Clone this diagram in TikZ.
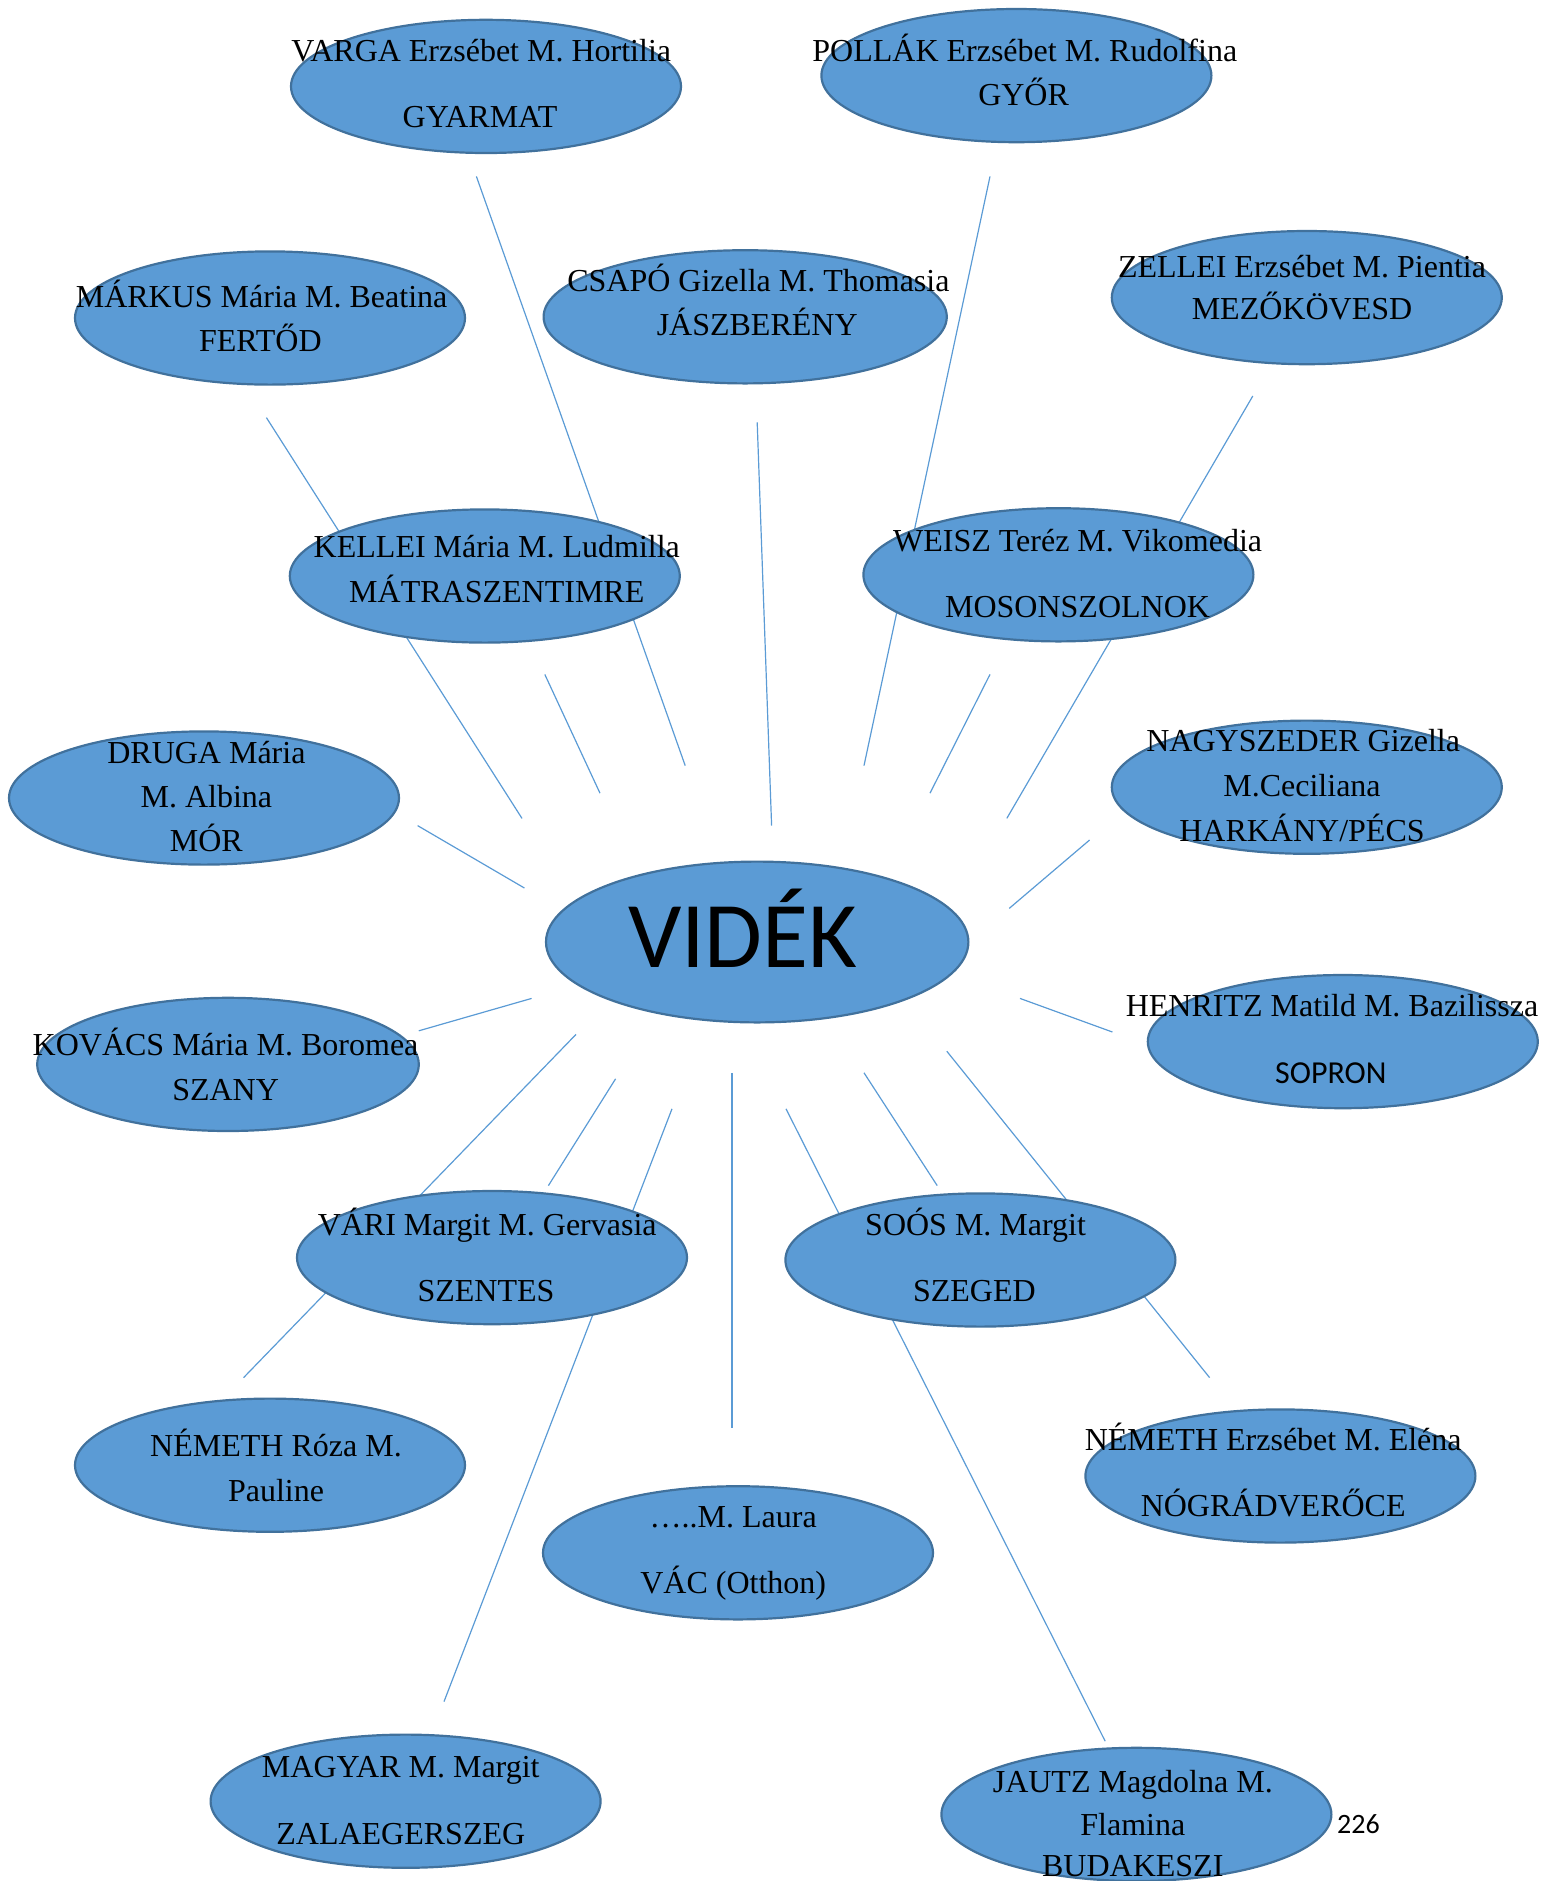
\documentclass[tikz,border=0pt]{standalone}
\usepackage{fontspec}
\setmainfont{Liberation Serif}
\newfontfamily\calibri{Carlito}
\usetikzlibrary{shapes.geometric}
\definecolor{blobfill}{HTML}{5B9BD5}
\definecolor{blobedge}{HTML}{41719C}
\definecolor{linkblue}{HTML}{5B9BD5}
\tikzset{
  blob/.style={ellipse, draw=blobedge, fill=blobfill, line width=1.1pt, inner sep=0pt,
               minimum width=195pt, minimum height=66.6pt},
  lbl/.style={font=\fontsize{16}{19}\selectfont, inner sep=0pt, text=black,
              text height=10.6pt, text depth=0pt, anchor=center},
  slbl/.style={font=\calibri\fontsize{16}{19}\selectfont, inner sep=0pt, text=black,
              text height=10.3pt, text depth=0pt, anchor=center},
  link/.style={draw=linkblue, line width=0.6pt},
}
\begin{document}
\begin{tikzpicture}[x=0.6pt,y=-0.6pt]
\useasboundingbox (0,0) rectangle (1291.7,1567.5);
% connector end points
\coordinate (a1) at (397,147);  \coordinate (a2) at (571,638);
\coordinate (b1) at (222,348);  \coordinate (b2) at (435,682);
\coordinate (c1) at (454,562);  \coordinate (c2) at (500,661);
\coordinate (d1) at (631,352);  \coordinate (d2) at (643,688);
\coordinate (e1) at (825,147);  \coordinate (e2) at (720,638);
\coordinate (f1) at (1044,330); \coordinate (f2) at (839,682);
\coordinate (g1) at (825,562);  \coordinate (g2) at (775,661);
\coordinate (h1) at (908,700);  \coordinate (h2) at (841,757);
\coordinate (i1) at (348,688);  \coordinate (i2) at (437,740);
\coordinate (j1) at (443,832);  \coordinate (j2) at (349,859);
\coordinate (k1) at (850,832);  \coordinate (k2) at (927,860);
\coordinate (l1) at (480,862);  \coordinate (l2) at (203,1148);
\coordinate (m1) at (513,899);  \coordinate (m2) at (457,988);
\coordinate (n1) at (560,924);  \coordinate (n2) at (370,1418);
\coordinate (o1) at (610,894);  \coordinate (o2) at (610,1190);
\coordinate (p1) at (655,924);  \coordinate (p2) at (921,1451);
\coordinate (q1) at (720,894);  \coordinate (q2) at (781,988);
\coordinate (r1) at (789,876);  \coordinate (r2) at (1008,1148);
\foreach \s in {a,b,c,d,e,f,g,h,i,j,k,l,m,n,o,p,q,r}{\draw[link] (\s1) -- (\s2);}
% ellipses
\node[blob] (varga) at (405,72) {};
\node[blob] (pollak) at (847,63) {};
\node[blob] (markus) at (225,265) {};
\node[blob, minimum width=201.6pt] (csapo) at (621,264) {};
\node[blob] (zellei) at (1089,248) {};
\node[blob] (kellei) at (404,480) {};
\node[blob] (weisz) at (882,479) {};
\node[blob] (druga) at (170,665) {};
\node[blob] (nagy) at (1089,656) {};
\node[blob, minimum width=211.2pt, minimum height=80.4pt] (videk) at (631,785) {};
\node[blob, minimum width=190.8pt] (kovacs) at (190,887) {};
\node[blob] (henritz) at (1119,868) {};
\node[blob] (vari) at (410,1048) {};
\node[blob] (soos) at (817,1050) {};
\node[blob] (nemethr) at (225,1221) {};
\node[blob] (nemethe) at (1067,1230) {};
\node[blob] (laura) at (615,1294) {};
\node[blob] (magyar) at (338,1501) {};
\node[blob] (jautz) at (947,1512) {};
% texts
\node[lbl] (varga1) at (401,42) {VARGA Erzsébet M. Hortilia};
\node[lbl] (varga2) at (400,97) {GYARMAT};
\node[lbl] (pollak1) at (854,42) {POLLÁK Erzsébet M. Rudolfina};
\node[lbl] (pollak2) at (853,79) {GYŐR};
\node[lbl] (markus1) at (218,247) {MÁRKUS Mária M. Beatina};
\node[lbl] (markus2) at (217,284) {FERTŐD};
\node[lbl] (csapo1) at (632,234) {CSAPÓ Gizella M. Thomasia};
\node[lbl] (csapo2) at (631,271) {JÁSZBERÉNY};
\node[lbl] (zellei1) at (1085,222) {ZELLEI Erzsébet M. Pientia};
\node[lbl] (zellei2) at (1085,257) {MEZŐKÖVESD};
\node[lbl] (kellei1) at (414,456) {KELLEI Mária M. Ludmilla};
\node[lbl] (kellei2) at (414,493) {MÁTRASZENTIMRE};
\node[lbl] (weisz1) at (898,451) {WEISZ Teréz M. Vikomedia};
\node[lbl] (weisz2) at (898,506) {MOSONSZOLNOK};
\node[lbl] (druga1) at (172,627) {DRUGA Mária};
\node[lbl] (druga2) at (172,664) {M. Albina};
\node[lbl] (druga3) at (172,701) {MÓR};
\node[lbl] (nagy1) at (1086,617) {NAGYSZEDER Gizella};
\node[lbl] (nagy2) at (1085,655) {M.Ceciliana};
\node[lbl] (nagy3) at (1085,692) {HARKÁNY/PÉCS};
\node[font=\calibri\fontsize{47}{50}\selectfont, inner sep=0pt, anchor=base] (videk1) at (619,806) {VIDÉK};
\node[lbl] (kovacs1) at (188,871) {KOVÁCS Mária M. Boromea};
\node[lbl] (kovacs2) at (188,908) {SZANY};
\node[lbl] (henritz1) at (1110,838) {HENRITZ Matild M. Bazilissza};
\node[slbl] (henritz2) at (1109,894) {SOPRON};
\node[lbl] (vari1) at (406,1021) {VÁRI Margit M. Gervasia};
\node[lbl] (vari2) at (405,1076) {SZENTES};
\node[lbl] (soos1) at (813,1021) {SOÓS M. Margit};
\node[lbl] (soos2) at (812,1076) {SZEGED};
\node[lbl] (nemethr1) at (230,1205) {NÉMETH Róza M.};
\node[lbl] (nemethr2) at (230,1242) {Pauline};
\node[lbl] (nemethe1) at (1061,1200) {NÉMETH Erzsébet M. Eléna};
\node[lbl] (nemethe2) at (1061,1255) {NÓGRÁDVERŐCE};
\node[lbl] (laura1) at (611,1264) {…..M. Laura};
\node[lbl] (laura2) at (611,1319) {VÁC (Otthon)};
\node[lbl] (magyar1) at (334,1472) {MAGYAR M. Margit};
\node[lbl] (magyar2) at (334,1528) {ZALAEGERSZEG};
\node[lbl] (jautz1) at (944,1485) {JAUTZ Magdolna M.};
\node[lbl] (jautz2) at (944,1521) {Flamina};
\node[lbl] (jautz3) at (944,1555) {BUDAKESZI};
\node[font=\calibri\fontsize{14}{16}\selectfont, inner sep=0pt, text height=9pt, text depth=0pt] (page) at (1132,1520) {226};
\end{tikzpicture}
\end{document}
